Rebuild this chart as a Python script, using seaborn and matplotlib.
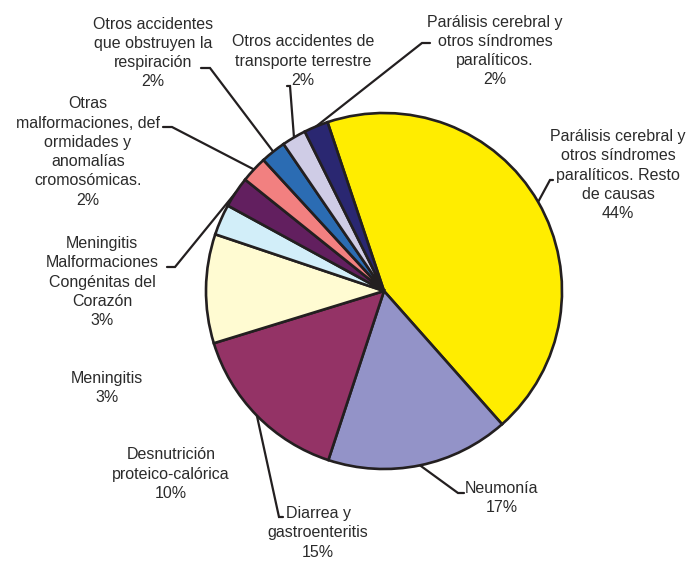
import numpy as np
import matplotlib
matplotlib.use("Agg")
import matplotlib.pyplot as plt
import seaborn as sns

# ---- data ----
categories = [
    "Parálisis cerebral y\notros síndromes\nparalíticos. Resto\nde causas",
    "Neumonía",
    "Diarrea y\ngastroenteritis",
    "Desnutrición\nproteico-calórica",
    "Meningitis",
    "Meningitis\nMalformaciones\nCongénitas del\nCorazón",
    "Otras\nmalformaciones, def\normidades y\nanomalías\ncromosómicas.",
    "Otros accidentes\nque obstruyen la\nrespiración",
    "Otros accidentes de\ntransporte terrestre",
    "Parálisis cerebral y\notros síndromes\nparalíticos.",
]
values = [43.6, 16.6, 15.2, 9.9, 2.8, 2.8, 2.4, 2.3, 2.2, 2.2]
colors = ["#FFED00", "#9393C8", "#943366", "#FFFBD2", "#D2EEF9",
          "#621F5F", "#F28080", "#2B6CB3", "#CFCCE6", "#2A2771"]

# ---- layout (pixel coordinates) ----
label_pos = [(618, 175), (502, 498), (318, 533), (171, 474), (107, 388),
             (102, 282), (88, 152), (153, 53), (303, 61), (495, 51)]
# (elbow, stub end) for leader lines, None = no leader
leaders = [((550, 180), (553, 180)), ((458, 493), (464, 493)),
           ((279, 517), (283, 517)), None, None,
           ((175, 267), (167, 267)), ((172, 127), (163, 127)),
           ((210, 68), (201, 68)), ((290, 86), (287, 86)),
           ((422, 43), (430, 43))]

sns.set_theme(style="white")
plt.rcParams["font.family"] = ["Liberation Sans", "DejaVu Sans"]

W, H = 688, 561
fig = plt.figure(figsize=(W / 100, H / 100), dpi=100)
ax = fig.add_axes([0, 0, 1, 1])

cx, cy, r = 384, 291, 178
edge = "#231f20"
wedges, _ = ax.pie(values, colors=colors, startangle=251.5, counterclock=True,
                   center=(cx, cy), radius=r,
                   wedgeprops=dict(edgecolor=edge, linewidth=1.9))
ax.set_xlim(0, W)
ax.set_ylim(H, 0)
ax.set_aspect("equal")
ax.axis("off")

txtc = "#2b2b2b"
for w, cat, v, pos, ld in zip(wedges, categories, values, label_pos, leaders):
    txt = f"{cat}\n{int(round(v))}%"
    ax.text(pos[0], pos[1], txt, ha="center", va="center", multialignment="center",
            fontsize=11.5, color=txtc, linespacing=1.36)
    if ld is not None:
        mid = np.deg2rad((w.theta1 + w.theta2) / 2)
        ex, ey = cx + r * np.cos(mid), cy + r * np.sin(mid)
        (bx, by), (sx, sy) = ld
        ax.plot([ex, bx, sx], [ey, by, sy], color=edge, lw=1.6,
                solid_joinstyle="miter", zorder=0.5)

fig.savefig("out.png", dpi=100, facecolor="white")
